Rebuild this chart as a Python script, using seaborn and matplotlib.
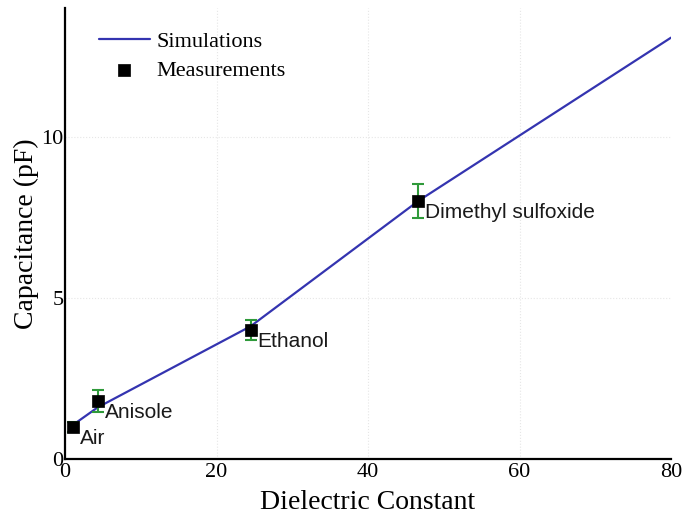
import matplotlib
matplotlib.use("Agg")
import matplotlib.pyplot as plt
import seaborn as sns

# Simulation curve (dielectric constant vs capacitance)
sim_eps = [1.0, 4.3, 24.5, 46.7, 80.0]
sim_cap = [1.05, 1.6, 4.12, 8.02, 13.08]

# Measurements
meas_names = ["Air", "Anisole", "Ethanol", "Dimethyl sulfoxide"]
meas_eps = [1.0, 4.4, 24.5, 46.6]
meas_cap = [1.0, 1.8, 4.0, 8.0]
meas_err = [0.15, 0.33, 0.3, 0.53]

x_ticks = [0, 20, 40, 60, 80]
y_ticks = [0, 5, 10]

sns.set_theme(style="white")
plt.rcParams["font.family"] = ["Liberation Serif", "DejaVu Serif"]

fig = plt.figure(figsize=(6.97, 5.17), dpi=100)
ax = fig.add_axes([0.0933, 0.1122, 0.8694, 0.8723])

sns.lineplot(x=sim_eps, y=sim_cap, color="#3434b0", linewidth=1.6,
             label="Simulations", ax=ax, zorder=3)
ax.errorbar(meas_eps, meas_cap, yerr=meas_err, fmt="none", ecolor="#2f9a3a",
            elinewidth=1.5, capsize=4, capthick=1.5, zorder=4)
sns.scatterplot(x=meas_eps, y=meas_cap, marker="s", s=85, color="black",
                edgecolor="black", linewidth=0.5, label="Measurements", ax=ax,
                zorder=5)

for name, x, y in zip(meas_names, meas_eps, meas_cap):
    ax.annotate(name, (x, y), xytext=(5, -1.5), textcoords="offset points",
                ha="left", va="top", fontsize=15, color="#1a1a1a",
                family=["Liberation Sans", "DejaVu Sans"])

ax.set_xlim(0, 80)
ax.set_ylim(0, 14)
ax.set_xticks(x_ticks)
ax.set_yticks(y_ticks)
ax.tick_params(axis="both", length=0, labelsize=16, colors="black")
ax.tick_params(axis="x", pad=3)
ax.tick_params(axis="y", pad=1)

ax.grid(True, color="#e6e6e6", linestyle=":", linewidth=0.8)
ax.xaxis.get_gridlines()[-1].set_visible(False)
ax.set_axisbelow(True)

sns.despine(ax=ax)
for side in ("left", "bottom"):
    ax.spines[side].set_color("black")
    ax.spines[side].set_linewidth(1.6)

ax.set_xlabel("Dielectric Constant", fontsize=20, color="black", labelpad=6)
ax.set_ylabel("Capacitance (pF)", fontsize=20, color="black", labelpad=1.5)

leg = ax.legend(loc="upper left", bbox_to_anchor=(0.03, 0.982), frameon=False,
                fontsize=16, handlelength=2.3, handletextpad=0.3,
                labelspacing=0.35, borderaxespad=0.3)
for t in leg.get_texts():
    t.set_color("black")

fig.savefig("out.png", dpi=100)
